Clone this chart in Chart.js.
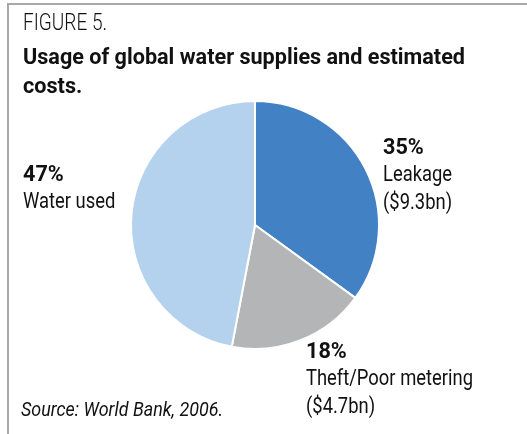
<html><head>
<style>
body { margin: 0; background: #fff; }
#wrap { position: relative; width: 527px; height: 434px; }
#frame { position: absolute; left: 7px; top: 3px; width: 530px; height: 440px; border-top: 2px solid #a8a8a8; border-left: 2px solid #a8a8a8; }
canvas { position: absolute; left: 0; top: 0; }
</style>
</head>
<body>
<script src="https://cdn.jsdelivr.net/npm/chart.js@4.4.1/dist/chart.umd.min.js"></script>
<div id="wrap"><div id="frame"></div><canvas id="myChart" width="527" height="434"></canvas></div>
<script>
// data
categories = ['Leakage', 'Theft/Poor metering', 'Water used'];
shares = [35, 18, 47];
costs = ['($9.3bn)', '($4.7bn)', ''];
colors = ['#4181c4', '#b4b5b7', '#b4d2ee'];

FONT = "Roboto, 'Liberation Sans', sans-serif";

// where each slice label sits: x, baseline of first line
labelPos = [[383, 154], [306, 358], [23, 181]];

// the original uses a condensed face, so squeeze the text sideways
function squeeze(c, font, sample, width) {
  c.font = font
  return width / c.measureText(sample).width
}
function put(c, str, x, y, font, sx) {
  c.save()
  c.font = font
  c.translate(x, y)
  c.scale(sx, 1)
  c.fillText(str, 0, 0)
  c.restore()
}

textPlugin = {
  id: 'texts',
  afterDraw(chart) {
    c = chart.ctx
    c.save()
    c.fillStyle = '#111'
    c.textBaseline = 'alphabetic'
    c.textAlign = 'left'
    fLight = '300 23px ' + FONT
    fBold = 'bold 22px ' + FONT
    fReg = '22px ' + FONT
    fItal = 'italic 20px ' + FONT
    sLight = squeeze(c, fLight, 'FIGURE 5.', 84)
    sBold = squeeze(c, fBold, 'Usage of global water supplies and estimated', 442)
    sReg = squeeze(c, fReg, 'Theft/Poor metering', 167)
    sItal = squeeze(c, fItal, 'Source: World Bank, 2006.', 202)
    put(c, 'FIGURE 5.', 23, 30, fLight, sLight)
    put(c, 'Usage of global water supplies and estimated', 23, 64, fBold, sBold)
    put(c, 'costs.', 23, 93, fBold, sBold)
    for ( let i=0 ; i<categories.length ; i++ ) {
      x = labelPos[i][0]
      y = labelPos[i][1]
      put(c, shares[i] + '%', x, y, fBold, sBold)
      put(c, categories[i], x, y + 27, fReg, sReg)
      if ( costs[i] ) put(c, costs[i], x, y + 55, fReg, sReg)
    }
    put(c, 'Source: World Bank, 2006.', 21, 416, fItal, sItal)
    c.restore()
  }
};

ctx = document.getElementById('myChart').getContext('2d');
myChart = new Chart(ctx, {
  type: 'pie',
  data: {
    labels: categories,
    datasets: [{
      data: shares,
      backgroundColor: colors,
      borderColor: '#ffffff',
      borderWidth: 2,
      hoverOffset: 0
    }]
  },
  options: {
    responsive: false,
    animation: false,
    layout: { padding: { left: 130, right: 147, top: 100, bottom: 84 } },
    plugins: { legend: { display: false }, tooltip: { enabled: false } }
  },
  plugins: [textPlugin]
});
</script>
</body>
</html>
